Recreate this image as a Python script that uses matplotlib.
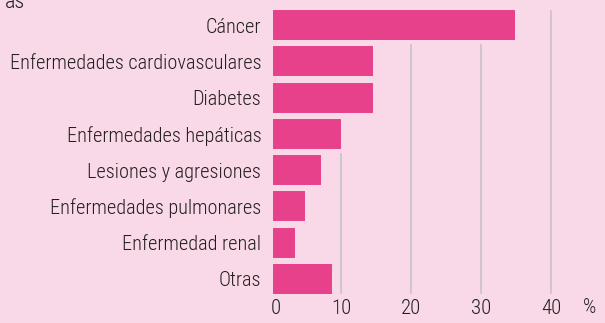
import matplotlib
matplotlib.use("Agg")
import matplotlib.pyplot as plt
from matplotlib import font_manager

categories = [
    "Cáncer",
    "Enfermedades cardiovasculares",
    "Diabetes",
    "Enfermedades hepáticas",
    "Lesiones y agresiones",
    "Enfermedades pulmonares",
    "Enfermedad renal",
    "Otras",
]
values = [35.2, 14.9, 14.9, 10.3, 7.4, 5.1, 3.7, 9.0]
xticks = [0, 10, 20, 30, 40]

BG = "#f9d9e7"
BAR = "#e8418c"
GRID = "#c9c2c7"
TEXT = "#231f20"

# prefer a condensed face if one is installed
names = sorted({f.name for f in font_manager.fontManager.ttflist})
preferred = ["Roboto Condensed", "Noto Sans Condensed", "Open Sans Condensed"]
condensed = [n for n in preferred if n in names] + [n for n in names if "Condensed" in n]
family = [condensed[0]] if condensed else ["DejaVu Sans"]
plt.rcParams["font.family"] = family + ["DejaVu Sans"]
plt.rcParams["font.weight"] = "light"
if not condensed:
    plt.rcParams["font.stretch"] = "condensed"

fig = plt.figure(figsize=(6.05, 3.23), dpi=100, facecolor=BG)
ax = fig.add_axes([271 / 605, 1 - 297 / 323, 329 / 605, 290 / 323])
ax.set_facecolor(BG)

pos = list(range(len(categories)))
ax.barh(pos, values, height=0.94, color=BAR, edgecolor=BG, linewidth=2.9, zorder=3)

ax.set_xlim(0, 47)
ax.set_ylim(len(categories) - 0.5, -0.5)
ax.set_xticks(xticks)
ax.set_xticklabels([str(t) for t in xticks])
ax.get_xticklabels()[0].set_ha("left")
ax.set_yticks(pos)
ax.set_yticklabels(categories)
ax.tick_params(axis="both", length=0, colors=TEXT)
ax.tick_params(axis="x", pad=1.5, labelsize=15)
ax.tick_params(axis="y", pad=7, labelsize=14.6)
for t in xticks[1:]:
    ax.axvline(t, ymin=4 / 290, ymax=286 / 290, color=GRID, linewidth=1.2, zorder=1)
for s in ax.spines.values():
    s.set_visible(False)

ax.text(45.5, -0.005, "%", transform=ax.get_xaxis_transform(), ha="center",
        va="top", fontsize=15, color=TEXT)
fig.text(5 / 605, 1 - 8 / 323, "as", ha="left", va="baseline",
         fontsize=16, color=TEXT)

fig.savefig("out.png", dpi=100, facecolor=BG)
